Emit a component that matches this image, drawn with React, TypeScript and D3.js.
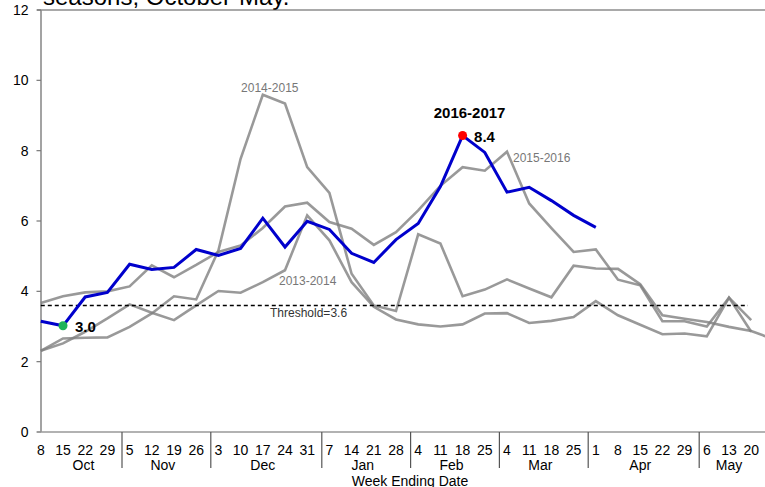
import React from "react";
import * as d3 from "d3";

const weekLabels = ["8","15","22","29","5","12","19","26","3","10","17","24","31","7","14","21","28","4","11","18","25","4","11","18","25","1","8","15","22","29","6","13","20"];
const months = ["Oct","Nov","Dec","Jan","Feb","Mar","Apr","May"];
const monthWeekCounts = [4,4,5,4,4,4,5,3];

const s1314 = [2.31,2.52,2.85,3.23,3.63,3.39,3.18,3.6,4.01,3.96,4.26,4.6,6.16,5.45,4.26,3.56,3.2,3.06,3.0,3.06,3.37,3.38,3.1,3.16,3.27,3.72,3.32,3.05,2.78,2.8,2.72,3.82,2.85];
const s1415 = [2.31,2.66,2.68,2.69,2.99,3.37,3.86,3.77,5.16,7.77,9.59,9.34,7.53,6.8,4.5,3.6,3.44,5.62,5.36,3.86,4.05,4.34,4.08,3.83,4.73,4.65,4.64,4.2,3.32,3.22,3.13,2.99,2.87,2.64];
const s1516 = [3.67,3.86,3.97,4.0,4.14,4.74,4.4,4.75,5.12,5.3,5.8,6.41,6.52,5.97,5.78,5.32,5.68,6.3,7.0,7.53,7.43,7.97,6.5,5.8,5.12,5.19,4.33,4.17,3.15,3.15,3.0,3.82,3.18];
const s1617 = [3.15,3.02,3.84,3.97,4.77,4.62,4.68,5.19,5.02,5.22,6.08,5.26,5.99,5.76,5.08,4.82,5.47,5.93,6.98,8.43,7.95,6.82,6.96,6.58,6.16,5.82];
const threshold = 3.6;
const yTicks = [0,2,4,6,8,10,12];

const W = 765, H = 487;
const FONT = "'Liberation Sans', Arial, sans-serif";

export default function App() {
  const x = d3.scaleLinear().domain([0, 32]).range([40.8, 751.2]);
  const y = d3.scaleLinear().domain([0, 12]).range([432, 10]);
  const line = d3.line<number>().x((_, i) => x(i)).y((d) => y(d));

  const seps: number[] = [];
  const monthX: number[] = [];
  let start = 0;
  monthWeekCounts.forEach((c, mi) => {
    const idxs = d3.range(start, start + c);
    const mean = d3.mean(idxs, (i) => x(i)) as number;
    const end = start + c - 1;
    if (mi < monthWeekCounts.length - 1) seps.push((x(end) + x(end + 1)) / 2 + 3.5);
    monthX.push(mean);
    start += c;
  });
  monthX[0] = (x(0) + seps[0]) / 2 + 2;

  const maxV = d3.max(s1617) as number;
  const maxI = s1617.indexOf(maxV);
  const minV = d3.min(s1617) as number;
  const minI = s1617.indexOf(minV);
  const peak1415 = s1415.indexOf(d3.max(s1415) as number);
  const peak1516 = s1516.indexOf(d3.max(s1516) as number);

  const gray = (data: number[], key: string) => (
    <path key={key} d={line(data) || ""} fill="none" stroke="#808080" strokeOpacity={0.8} strokeWidth={2.6} strokeLinejoin="miter" />
  );

  return (
    <svg width={W} height={H} style={{ position: "absolute", left: 0, top: 0, background: "#fff" }} fontFamily={FONT}>
      <text x={43} y={5} fontSize={24} fill="#000">seasons, October-May.</text>
      <line x1={37} x2={W} y1={y(12)} y2={y(12)} stroke="#555" strokeWidth={1.2} />
      <line x1={41} x2={41} y1={y(12)} y2={y(0)} stroke="#8c8c8c" strokeWidth={1.6} />
      {yTicks.map((t) => (
        <g key={t}>
          <line x1={36.5} x2={41} y1={y(t)} y2={y(t)} stroke="#777" strokeWidth={1.2} />
          <text x={28.5} y={y(t)} dy="0.35em" fontSize={14} textAnchor="end" fill="#000">{t}</text>
        </g>
      ))}
      <line x1={37} x2={W} y1={y(0)} y2={y(0)} stroke="#999" strokeWidth={1.6} />
      {seps.map((s, i) => (
        <line key={i} x1={s} x2={s} y1={y(0)} y2={468} stroke="#555" strokeWidth={1.2} />
      ))}
      {weekLabels.map((w, i) => (
        <text key={i} x={x(i)} y={454.5} fontSize={14} textAnchor="middle" fill="#000">{w}</text>
      ))}
      {months.map((m, i) => (
        <text key={m} x={monthX[i]} y={469.5} fontSize={14} textAnchor="middle" fill="#000">{m}</text>
      ))}
      <text x={410} y={486} fontSize={14} textAnchor="middle" fill="#000">Week Ending Date</text>

      {gray(s1314, "a")}
      {gray(s1415, "b")}
      {gray(s1516, "c")}

      <line x1={x(0)} x2={748} y1={y(threshold)} y2={y(threshold)} stroke="#000" strokeWidth={1.5} strokeDasharray="4,3" />
      <text x={270} y={y(threshold) + 11.5} fontSize={12} fill="#333">Threshold={threshold}</text>

      <text x={x(peak1415) + 7} y={y(s1415[peak1415]) - 2.5} fontSize={12} textAnchor="middle" fill="#777">2014-2015</text>
      <text x={x(peak1516) + 6} y={y(s1516[peak1516]) + 10.5} fontSize={12} fill="#777">2015-2016</text>
      <text x={x(11) - 6} y={y(s1314[11]) + 15} fontSize={12} fill="#777">2013-2014</text>

      <path d={line(s1617) || ""} fill="none" stroke="#0000cc" strokeWidth={3} strokeLinejoin="miter" />
      <circle cx={x(maxI)} cy={y(maxV)} r={4.5} fill="#ff0000" />
      <circle cx={x(minI)} cy={y(minV)} r={4.5} fill="#1fb35a" />
      <text x={x(maxI) + 11.5} y={y(maxV) + 6} fontSize={15} fontWeight="bold" fill="#000">{maxV.toFixed(1)}</text>
      <text x={x(minI) + 12} y={y(minV) + 6} fontSize={15} fontWeight="bold" fill="#000">{minV.toFixed(1)}</text>
      <text x={x(maxI) + 7} y={y(maxV) - 17.5} fontSize={15} fontWeight="bold" textAnchor="middle" fill="#000">2016-2017</text>
    </svg>
  );
}
